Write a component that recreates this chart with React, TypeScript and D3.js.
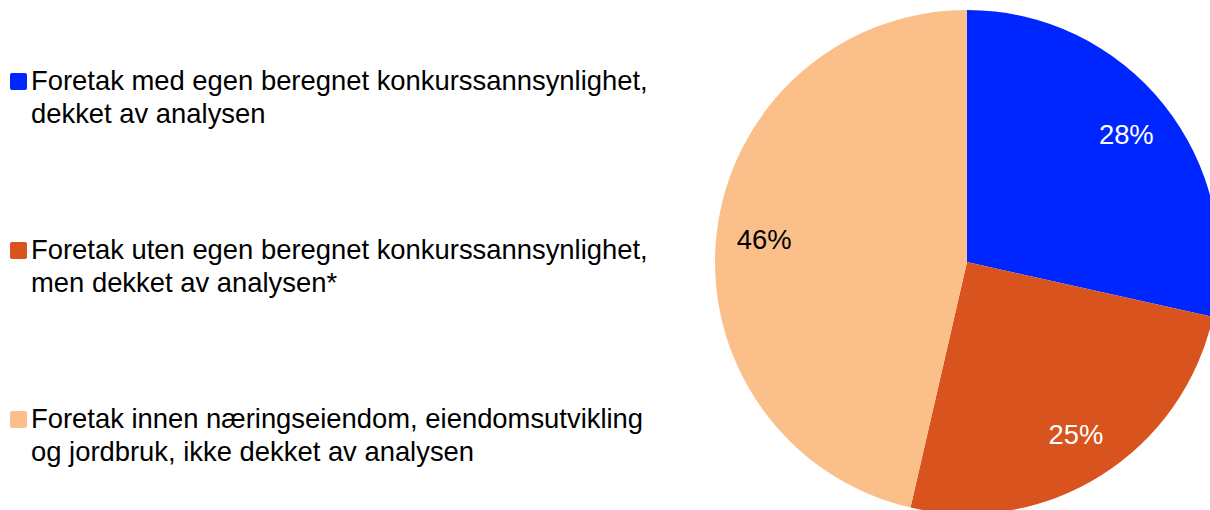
import React, { useEffect, useRef } from 'react';
import * as d3 from 'd3';

const categories = [
  ['Foretak med egen beregnet konkurssannsynlighet,', 'dekket av analysen'],
  ['Foretak uten egen beregnet konkurssannsynlighet,', 'men dekket av analysen*'],
  ['Foretak innen næringseiendom, eiendomsutvikling', 'og jordbruk, ikke dekket av analysen'],
];
const values = [28.5, 25.1, 46.4];
const labels = ['28%', '25%', '46%'];
const colors = ['#0026ff', '#d9531e', '#fbc08a'];
const labelColors = ['#ffffff', '#ffffff', '#000000'];

export default function App() {
  const ref = useRef<SVGSVGElement>(null);

  useEffect(() => {
    const width = 1210;
    const height = 510;
    const radius = 252;
    const font = 'Liberation Sans, Arial, sans-serif';

    const svg = d3.select(ref.current);
    svg.selectAll('*').remove();
    svg.attr('width', width).attr('height', height);

    const data = values.map((v, i) => ({ value: v, i }));
    const pie = d3.pie<{ value: number; i: number }>().value(d => d.value).sort(null);
    const arc = d3.arc<d3.PieArcDatum<{ value: number; i: number }>>().innerRadius(0).outerRadius(radius);
    const labelArc = d3.arc<d3.PieArcDatum<{ value: number; i: number }>>().innerRadius(radius * 0.81).outerRadius(radius * 0.81);

    const g = svg.append('g').attr('transform', 'translate(967,262)');
    const arcs = pie(data);

    g.selectAll('path')
      .data(arcs)
      .enter()
      .append('path')
      .attr('d', arc)
      .attr('fill', d => colors[d.data.i]);

    g.selectAll('text')
      .data(arcs)
      .enter()
      .append('text')
      .attr('transform', d => `translate(${labelArc.centroid(d)})`)
      .attr('text-anchor', 'middle')
      .attr('dy', '0.35em')
      .style('font-family', font)
      .style('font-size', '27.4px')
      .attr('fill', d => labelColors[d.data.i])
      .text(d => labels[d.data.i]);

    // baseline of first line of each legend entry
    const legendY = [90, 259, 428];
    const legend = svg
      .selectAll('.legend')
      .data(categories)
      .enter()
      .append('g')
      .attr('class', 'legend')
      .attr('transform', (d, i) => `translate(0,${legendY[i]})`);

    legend
      .append('rect')
      .attr('x', 10)
      .attr('y', -17)
      .attr('width', 17)
      .attr('height', 17)
      .attr('rx', 2)
      .attr('fill', (d, i) => colors[i]);

    legend
      .append('text')
      .style('font-family', font)
      .style('font-size', '27.4px')
      .attr('fill', '#000')
      .selectAll('tspan')
      .data(d => d)
      .enter()
      .append('tspan')
      .attr('x', 31)
      .attr('y', (d, i) => i * 33)
      .text(d => d);
  }, []);

  return <svg ref={ref} style={{ position: 'absolute', left: 0, top: 0 }}></svg>;
}
